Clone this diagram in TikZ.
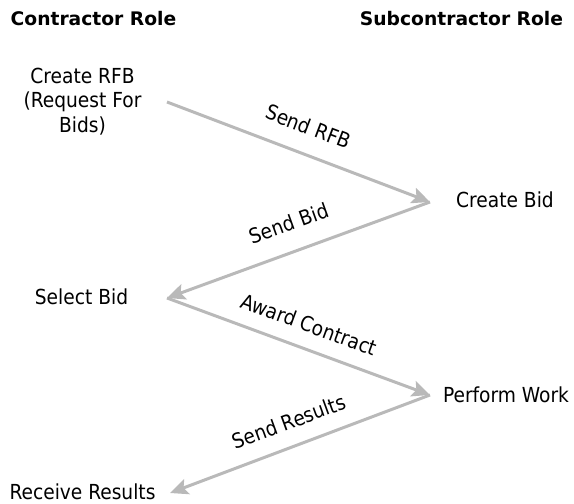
\documentclass[tikz,border=0pt]{standalone}
\usepackage{fontspec}
\setmainfont{DejaVu Sans}
\newfontfamily\condfont{DejaVu Sans Condensed}
\usetikzlibrary{arrows.meta}
\definecolor{arrowgray}{RGB}{185,185,185}
\begin{document}
\begin{tikzpicture}[x=1pt,y=-1pt,
  heading/.style={inner sep=0pt,font=\bfseries\fontsize{18.7}{22}\selectfont},
  role/.style={inner sep=0pt,font=\condfont\fontsize{20.7}{24.5}\selectfont,align=center},
  lab/.style={inner sep=0pt,font=\condfont\fontsize{20.6}{24}\selectfont},
  msg/.style={draw=arrowgray,line width=3pt,-{Stealth[length=18pt,width=16pt,inset=3.5pt,fill=arrowgray]}}]
\useasboundingbox (0,0) rectangle (574,504);
\node[heading] (hc) at (93.5,19) {Contractor Role};
\node[heading] (hs) at (461.5,19) {Subcontractor Role};
\node[role] (rfb) at (82.5,101.4) {Create RFB\\(Request For\\Bids)};
\node[role] (cbid) at (505,199.5) {Create Bid};
\node[role] (sbid) at (81.5,296.5) {Select Bid};
\node[role] (pw) at (506,394.5) {Perform Work};
\node[role] (rr) at (82.5,491.5) {Receive Results};
\coordinate (p0) at (167,102);
\coordinate (p1) at (430,202);
\coordinate (p2) at (167,298);
\coordinate (p3) at (430,395);
\coordinate (p4) at (170,493);
\draw[msg] (p0) -- (p1);
\draw[msg] (p1) -- (p2);
\draw[msg] (p2) -- (p3);
\draw[msg] (p3) -- (p4);
\node[lab,rotate=-20.8] (l1) at (308.5,126.5) {Send RFB};
\node[lab,rotate=19.8] (l2) at (289,223.5) {Send Bid};
\node[lab,rotate=-20.2] (l3) at (309,324.5) {Award Contract};
\node[lab,rotate=20.1] (l4) at (289,421.5) {Send Results};
\end{tikzpicture}
\end{document}
